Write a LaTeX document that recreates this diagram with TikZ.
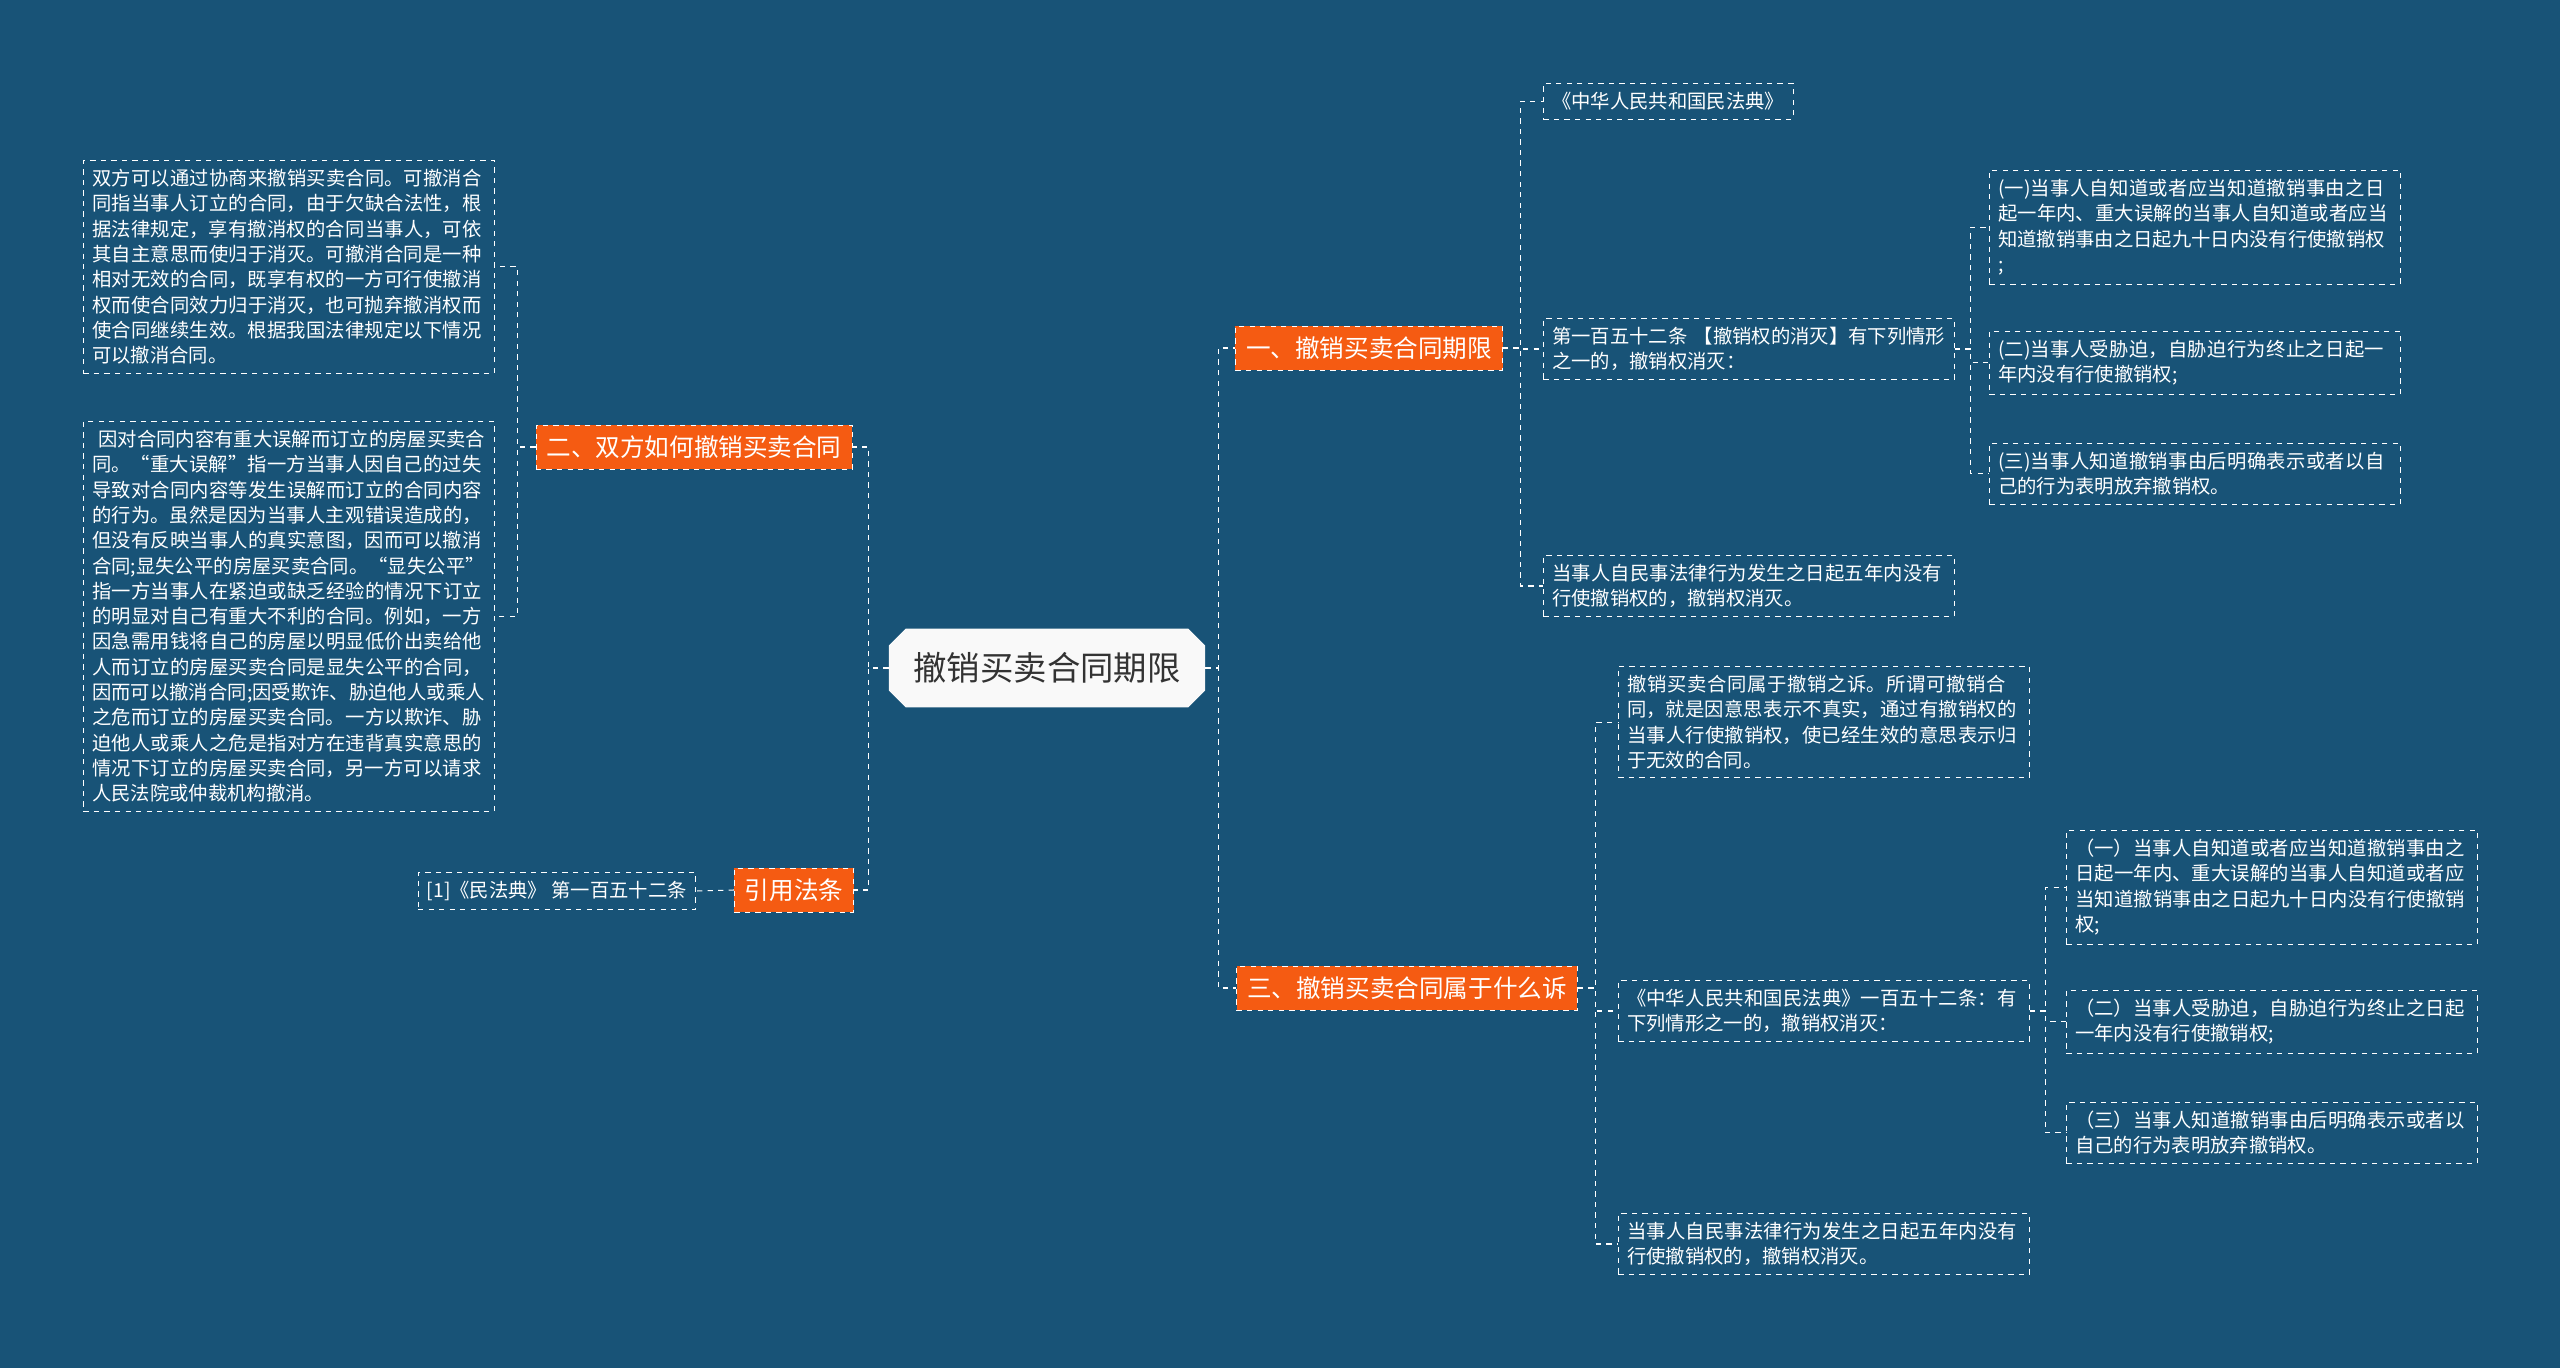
\documentclass[tikz,border=0pt]{standalone}
\usepackage{fontspec}
\setmainfont{Noto Sans CJK SC}
\XeTeXlinebreaklocale "zh"
\XeTeXlinebreakskip=0pt plus 1pt
\usetikzlibrary{positioning,shapes.misc}
\definecolor{bgblue}{RGB}{24,83,119}
\definecolor{branchorange}{RGB}{245,91,18}
\tikzset{
  leaf/.style={draw=white, dashed, text=white, font=\fontsize{11}{14.4}\selectfont,
    align=left, anchor=north west, inner xsep=5pt, inner ysep=5pt},
  wide/.style={leaf, text width=411*0.02cm-10pt},
  branch/.style={fill=branchorange, draw=white, dashed, text=white,
    font=\fontsize{14}{16}\selectfont, inner xsep=6pt, inner ysep=6pt},
  root/.style={chamfered rectangle, chamfered rectangle xsep=6pt, fill=white!95!gray,
    text=black!80, font=\fontsize{19}{22}\selectfont, inner xsep=8pt, inner ysep=10pt},
  link/.style={draw=white, dashed, line width=0.6pt}
}
\begin{document}
\begin{tikzpicture}[x=0.02cm, y=-0.02cm]
  \fill[bgblue] (0,0) rectangle (2560,1368);
  \useasboundingbox (0,0) rectangle (2560,1368);

  % centre and main branches
  \node[root] (root) at (1047,668) {撤销买卖合同期限};
  \node[branch] (b1) at (1369,348) {一、撤销买卖合同期限};
  \node[branch] (b3) at (1407,988) {三、撤销买卖合同属于什么诉};
  \node[branch] (b2) at (694,447) {二、双方如何撤销买卖合同};
  \node[branch] (b4) at (794,890) {引用法条};

  % branch one
  \node[leaf] (b1law) at (1543,83) {《中华人民共和国民法典》};
  \node[wide] (b1art) at (1543,318) {第一百五十二条 【撤销权的消灭】有下列情形之一的，撤销权消灭：};
  \node[wide] (b1five) at (1543,555) {当事人自民事法律行为发生之日起五年内没有行使撤销权的，撤销权消灭。};
  \node[wide] (b1one) at (1989,170) {(一)当事人自知道或者应当知道撤销事由之日起一年内、重大误解的当事人自知道或者应当知道撤销事由之日起九十日内没有行使撤销权\\;};
  \node[wide] (b1two) at (1989,331) {(二)当事人受胁迫，自胁迫行为终止之日起一年内没有行使撤销权;};
  \node[wide] (b1three) at (1989,443) {(三)当事人知道撤销事由后明确表示或者以自己的行为表明放弃撤销权。};

  % branch three
  \node[wide] (b3suit) at (1618,666) {撤销买卖合同属于撤销之诉。所谓可撤销合同，就是因意思表示不真实，通过有撤销权的当事人行使撤销权，使已经生效的意思表示归于无效的合同。};
  \node[wide] (b3art) at (1618,980) {《中华人民共和国民法典》一百五十二条：有下列情形之一的，撤销权消灭：};
  \node[wide] (b3five) at (1618,1213) {当事人自民事法律行为发生之日起五年内没有行使撤销权的，撤销权消灭。};
  \node[wide] (b3one) at (2066,830) {（一）当事人自知道或者应当知道撤销事由之日起一年内、重大误解的当事人自知道或者应当知道撤销事由之日起九十日内没有行使撤销权;};
  \node[wide] (b3two) at (2066,990) {（二）当事人受胁迫，自胁迫行为终止之日起一年内没有行使撤销权;};
  \node[wide] (b3three) at (2066,1102) {（三）当事人知道撤销事由后明确表示或者以自己的行为表明放弃撤销权。};

  % branch two
  \node[wide] (b2talk) at (83,160) {双方可以通过协商来撤销买卖合同。可撤消合同指当事人订立的合同，由于欠缺合法性，根据法律规定，享有撤消权的合同当事人，可依其自主意思而使归于消灭。可撤消合同是一种相对无效的合同，既享有权的一方可行使撤消权而使合同效力归于消灭，也可抛弃撤消权而使合同继续生效。根据我国法律规定以下情况可以撤消合同。};
  \node[wide] (b2case) at (83,421) {\ 因对合同内容有重大误解而订立的房屋买卖合同。“重大误解”指一方当事人因自己的过失导致对合同内容等发生误解而订立的合同内容的行为。虽然是因为当事人主观错误造成的，但没有反映当事人的真实意图，因而可以撤消合同;显失公平的房屋买卖合同。“显失公平”指一方当事人在紧迫或缺乏经验的情况下订立的明显对自己有重大不利的合同。例如，一方因急需用钱将自己的房屋以明显低价出卖给他人而订立的房屋买卖合同是显失公平的合同，因而可以撤消合同;因受欺诈、胁迫他人或乘人之危而订立的房屋买卖合同。一方以欺诈、胁迫他人或乘人之危是指对方在违背真实意思的情况下订立的房屋买卖合同，另一方可以请求人民法院或仲裁机构撤消。};

  % cited article
  \node[leaf, anchor=east] (b4ref) at (696,891) {[1]《民法典》 第一百五十二条};

  % connectors
  \draw[link] (root.east) -- ++(13,0) |- (b1.west);
  \draw[link] (root.east) -- ++(13,0) |- (b3.west);
  \draw[link] (root.west) -- ++(-20,0) |- (b2.east);
  \draw[link] (root.west) -- ++(-20,0) |- (b4.east);
  \foreach \n in {b1law,b1art,b1five} \draw[link] (b1.east) -- ++(18,0) |- (\n.west);
  \foreach \n in {b1one,b1two,b1three} \draw[link] (b1art.east) -- ++(16,0) |- (\n.west);
  \foreach \n in {b3suit,b3art,b3five} \draw[link] (b3.east) -- ++(18,0) |- (\n.west);
  \foreach \n in {b3one,b3two,b3three} \draw[link] (b3art.east) -- ++(16,0) |- (\n.west);
  \foreach \n in {b2talk,b2case} \draw[link] (b2.west) -- ++(-18,0) |- (\n.east);
  \draw[link] (b4.west) -- (b4ref.east);
\end{tikzpicture}
\end{document}
